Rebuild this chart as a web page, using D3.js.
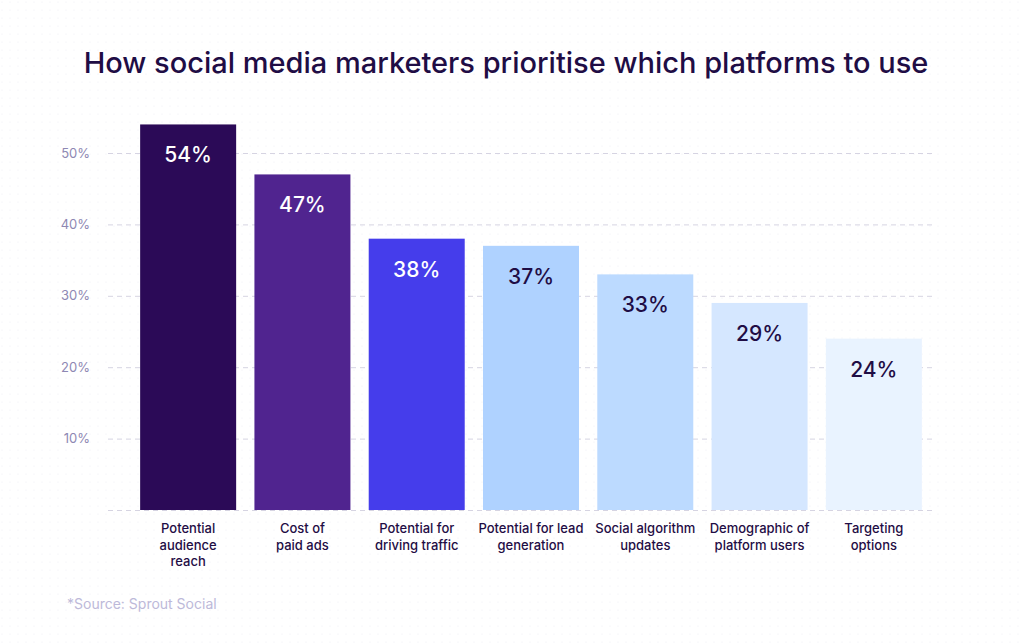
<!DOCTYPE html>
<html>
<head>
<meta charset="utf-8">
<script src="https://cdn.jsdelivr.net/npm/d3@7"></script>
<style>
  body { margin: 0; background: #ffffff; }
  svg { display: block; }
</style>
</head>
<body>
<div id="chart"></div>
<script>
// Data
const categories = [
  ["Potential", "audience", "reach"],
  ["Cost of", "paid ads"],
  ["Potential for", "driving traffic"],
  ["Potential for lead", "generation"],
  ["Social algorithm", "updates"],
  ["Demographic of", "platform users"],
  ["Targeting", "options"]
];
const values = [54, 47, 38, 37, 33, 29, 24];
const barColors = ["#2b0a57", "#50248f", "#453deb", "#afd2ff", "#bcdaff", "#d5e7ff", "#e9f3ff"];
const labelColors = ["#ffffff", "#ffffff", "#ffffff", "#1f0d45", "#1f0d45", "#1f0d45", "#1f0d45"];
const yTicks = [10, 20, 30, 40, 50];

const W = 1024, H = 644;
const font = "Inter, 'Noto Sans', sans-serif";
const ink = "#1f0d45";

const svg = d3.select("#chart")
    .append("svg")
    .attr("width", W)
    .attr("height", H);

// faint dotted background
const defs = svg.append("defs");
const pat = defs.append("pattern")
    .attr("id", "dots")
    .attr("width", 8)
    .attr("height", 8)
    .attr("patternUnits", "userSpaceOnUse");
pat.append("circle")
    .attr("cx", 2).attr("cy", 2).attr("r", 0.6)
    .attr("fill", "#ecebf2");
svg.append("rect").attr("width", W).attr("height", H).attr("fill", "#ffffff");
svg.append("rect").attr("width", W).attr("height", H).attr("fill", "url(#dots)");

// Scales
const x = d3.scaleBand()
    .domain(d3.range(values.length))
    .range([131, 931])
    .paddingInner(0.16)
    .paddingOuter(0.08);

const y = d3.scaleLinear()
    .domain([0, 50])
    .range([510, 153]);

// Gridlines (dashed) incl. baseline
const grid = svg.append("g")
    .attr("transform", "translate(108,0)")
    .call(d3.axisLeft(y).tickValues([0].concat(yTicks)).tickSize(-(932 - 108)).tickFormat(""));
grid.select(".domain").remove();
grid.selectAll(".tick line")
    .attr("stroke", "#d6d4e2")
    .attr("stroke-width", 1)
    .attr("stroke-dasharray", "5,4");

// Y tick labels
const yAxis = svg.append("g")
    .attr("transform", "translate(90,0)")
    .call(d3.axisLeft(y).tickValues(yTicks).tickSize(0).tickPadding(0).tickFormat(d => d + "%"));
yAxis.select(".domain").remove();
yAxis.selectAll("text")
    .attr("font-family", font)
    .attr("font-size", "13px")
    .attr("fill", "#8e88b3");

// Bars
svg.selectAll(".bar")
    .data(values)
    .enter()
    .append("rect")
    .attr("class", "bar")
    .attr("x", (d, i) => x(i))
    .attr("y", d => y(d))
    .attr("width", x.bandwidth())
    .attr("height", d => y(0) - y(d))
    .attr("fill", (d, i) => barColors[i]);

// Value labels inside bars
svg.selectAll(".val")
    .data(values)
    .enter()
    .append("text")
    .attr("class", "val")
    .attr("x", (d, i) => x(i) + x.bandwidth() / 2)
    .attr("y", d => y(d) + 38)
    .attr("text-anchor", "middle")
    .attr("font-family", font)
    .attr("font-size", "21px")
    .attr("font-weight", 500)
    .attr("fill", (d, i) => labelColors[i])
    .text(d => d + "%");

// Category labels
const cat = svg.selectAll(".cat")
    .data(categories)
    .enter()
    .append("text")
    .attr("class", "cat")
    .attr("text-anchor", "middle")
    .attr("font-family", font)
    .attr("font-size", "13px")
    .attr("font-weight", 500)
    .attr("fill", ink);
cat.selectAll("tspan")
    .data((d, i) => d.map(line => ({ line, i })))
    .enter()
    .append("tspan")
    .attr("x", d => x(d.i) + x.bandwidth() / 2)
    .attr("y", (d, j) => 533 + j * 16.5)
    .text(d => d.line);

// Title
svg.append("text")
    .attr("x", 506)
    .attr("y", 73)
    .attr("text-anchor", "middle")
    .attr("font-family", font)
    .attr("font-size", "29px")
    .attr("font-weight", 500)
    .attr("fill", ink)
    .text("How social media marketers prioritise which platforms to use");

// Source
svg.append("text")
    .attr("x", 67)
    .attr("y", 609)
    .attr("font-family", font)
    .attr("font-size", "14px")
    .attr("fill", "#bdb9d9")
    .text("*Source: Sprout Social");
</script>
</body>
</html>
